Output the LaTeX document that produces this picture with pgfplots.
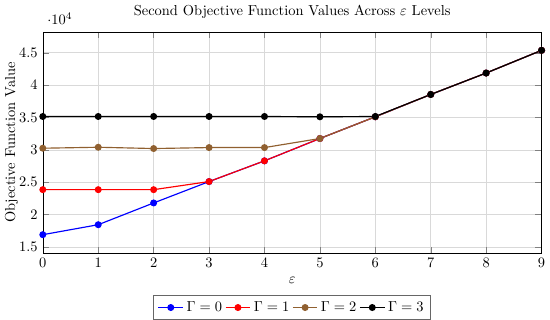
\documentclass[border=0pt]{standalone}
\usepackage{pgfplots}
\pgfplotsset{compat=1.18}
\begin{document}
\begin{tikzpicture}
\begin{axis}[
  scale only axis,
  width=345pt, height=153pt,
  title={Second Objective Function Values Across $\varepsilon$ Levels},
  xlabel={$\varepsilon$},
  ylabel={Objective Function Value},
  ylabel style={yshift=-6pt},
  xmin=0, xmax=9,
  xtick={0,1,...,9},
  ytick distance=5000,
  enlarge y limits=0.1,
  grid=major,
  grid style={gray!30},
  legend style={at={(0.5,-0.19)}, anchor=north, legend columns=4, draw=gray!80!black, thick},
]
\addplot[blue, mark=*, thick] coordinates {(0,16900) (1,18440) (2,21800) (3,25100) (4,28300) (5,31750) (6,35100) (7,38550) (8,41860) (9,45360)};
\addlegendentry{$\Gamma=0$}
\addplot[red, mark=*, thick] coordinates {(0,23850) (1,23850) (2,23850) (3,25100) (4,28300) (5,31750) (6,35100) (7,38550) (8,41860) (9,45360)};
\addlegendentry{$\Gamma=1$}
\addplot[brown!75!black, mark=*, thick] coordinates {(0,30250) (1,30400) (2,30200) (3,30350) (4,30350) (5,31750) (6,35100) (7,38550) (8,41860) (9,45360)};
\addlegendentry{$\Gamma=2$}
\addplot[black, mark=*, thick] coordinates {(0,35150) (1,35150) (2,35150) (3,35150) (4,35150) (5,35100) (6,35150) (7,38550) (8,41860) (9,45360)};
\addlegendentry{$\Gamma=3$}
\end{axis}
\end{tikzpicture}
\end{document}
